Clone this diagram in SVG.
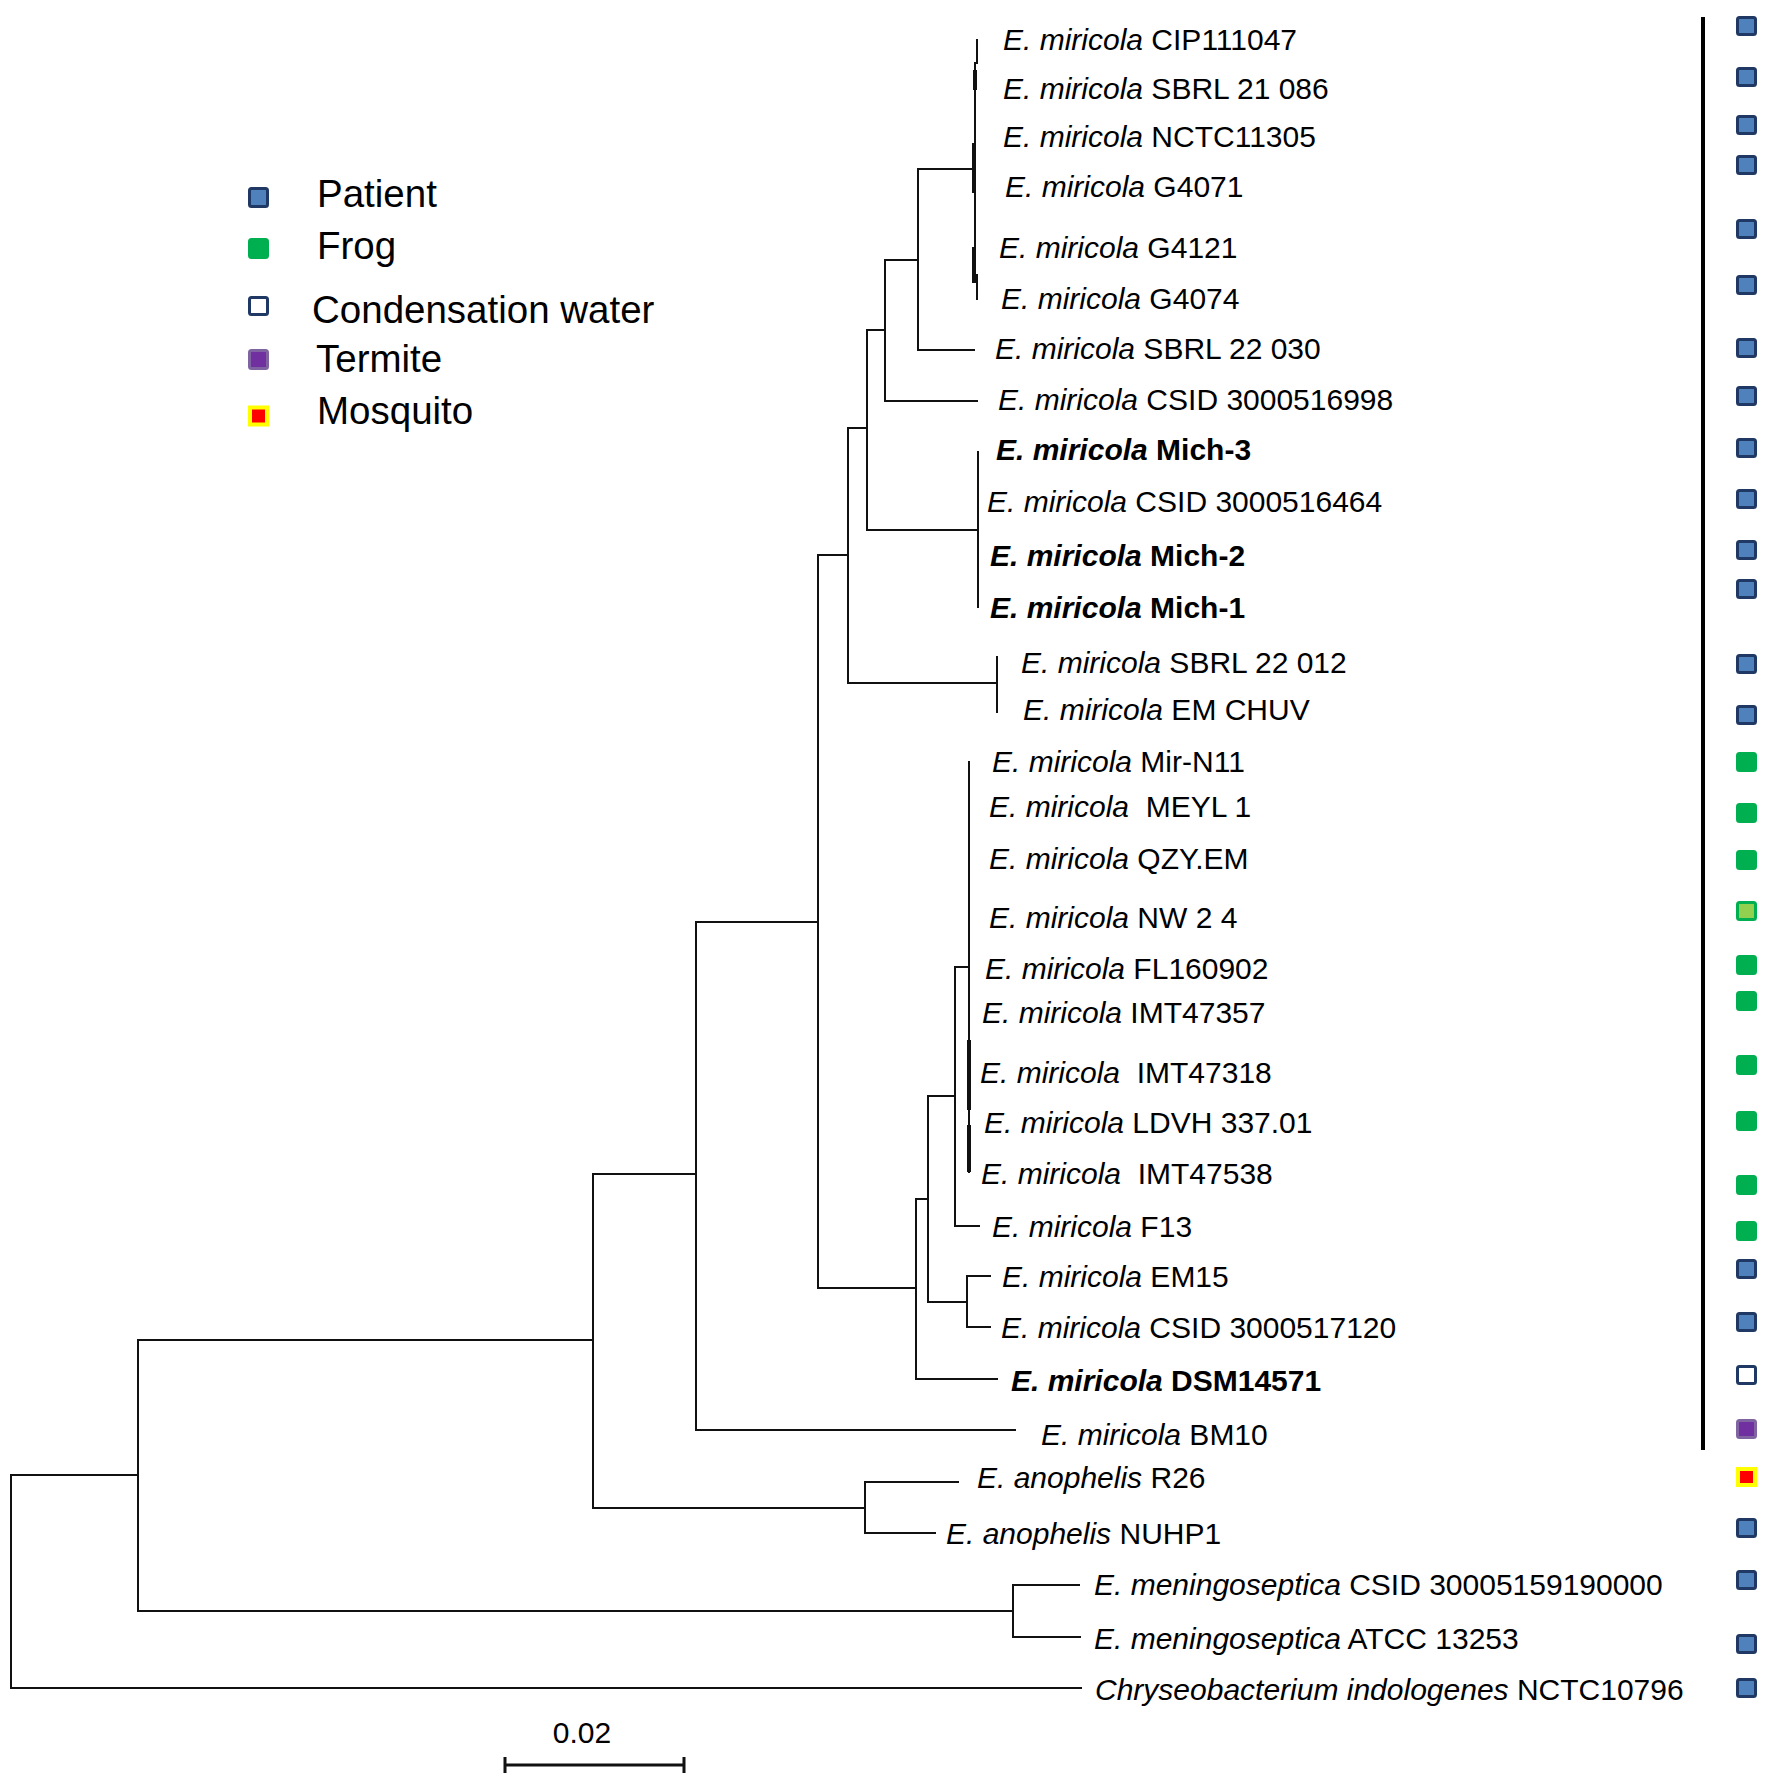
<svg xmlns="http://www.w3.org/2000/svg" width="1772" height="1786" viewBox="0 0 1772 1786">
<defs>
<style>
text{font-family:"Liberation Sans",Arial,sans-serif;fill:#000}
.lbl{font-size:30px;white-space:pre}
.it{font-style:italic}
.b{font-weight:bold}
.leg{font-size:38.5px}
.br{fill:none;stroke:#111;stroke-width:2;stroke-linecap:square}
.thick{fill:none;stroke:#111;stroke-width:4}
.pat{fill:#4f81bd;stroke:#1f3864;stroke-width:3}
.frog{fill:#00b050;stroke:#00b050;stroke-width:3}
.frogl{fill:#92d050;stroke:#00b050;stroke-width:3}
.cond{fill:#fff;stroke:#1f3864;stroke-width:3}
.term{fill:#7030a0;stroke:#8064a2;stroke-width:3}
.mosq{fill:#ff0000;stroke:#ffff00;stroke-width:4}
</style>
</defs>
<rect width="1772" height="1786" fill="#fff"/>

<g id="legend">
<rect class="pat" x="249.5" y="188.5" width="18" height="18" rx="2"/>
<text class="leg" x="317" y="207">Patient</text>
<rect class="frog" x="249.5" y="239.5" width="18" height="18" rx="2"/>
<text class="leg" x="317" y="259">Frog</text>
<rect class="cond" x="249.5" y="297.5" width="18" height="17" rx="2"/>
<text class="leg" x="312" y="323">Condensation water</text>
<rect class="term" x="249.5" y="350.5" width="18" height="18" rx="2"/>
<text class="leg" x="316" y="372">Termite</text>
<rect class="mosq" x="250" y="407.5" width="17" height="17"/>
<text class="leg" x="317" y="424">Mosquito</text>
</g>

<g id="connectors">
<path class="br" d="M11 1475V1688M11 1475H138M11 1688H1081"/>
<path class="br" d="M138 1340V1611M138 1340H593M138 1611H1013"/>
<path class="br" d="M1013 1585V1637M1013 1585H1079M1013 1637H1080"/>
<path class="br" d="M593 1174V1508M593 1174H696M593 1508H865"/>
<path class="br" d="M865 1482V1533M865 1482H958M865 1533H935"/>
<path class="br" d="M696 922V1430M696 922H818M696 1430H1015"/>
<path class="br" d="M818 555V1288M818 555H848M818 1288H916"/>
<path class="br" d="M916 1199V1379M916 1199H928M916 1379H997"/>
<path class="br" d="M928 1096V1302M928 1096H955M928 1302H967"/>
<path class="br" d="M967 1276V1327M967 1276H990M967 1327H990"/>
<path class="br" d="M955 967V1226M955 967H969M955 1226H979"/>
<path class="br" d="M969 762V1172"/>
<path class="thick" d="M969 1040V1110M969 1125V1172"/>
<path class="br" d="M848 428V683M848 428H867M848 683H997"/>
<path class="br" d="M997 657V712"/>
<path class="br" d="M867 330V530M867 330H885M867 530H978"/>
<path class="br" d="M978 452V607"/>
<path class="br" d="M885 260V401M885 260H918M885 401H977"/>
<path class="br" d="M918 169V350M918 169H974M918 350H974"/>
<path class="br" d="M975 63V275M977 40V63M977 275V299"/>
<path class="thick" d="M974 143V193M974 247V283M975 70V90"/>
<path d="M1703 17V1450" fill="none" stroke="#000" stroke-width="4"/>
</g>

<g id="scale">
<path d="M505 1765H684M505 1757V1773M684 1757V1773" fill="none" stroke="#111" stroke-width="3"/>
<text class="lbl" x="582" y="1743" text-anchor="middle">0.02</text>
</g>

<g id="leaf1"><text class="lbl" x="1003" y="50"><tspan class="it">E. miricola</tspan> CIP111047</text><rect class="pat" x="1737.5" y="17.5" width="18" height="17" rx="2"/></g>
<g id="leaf2"><text class="lbl" x="1003" y="99"><tspan class="it">E. miricola</tspan> SBRL 21 086</text><rect class="pat" x="1737.5" y="68.5" width="18" height="17" rx="2"/></g>
<g id="leaf3"><text class="lbl" x="1003" y="147"><tspan class="it">E. miricola</tspan> NCTC11305</text><rect class="pat" x="1737.5" y="116.5" width="18" height="17" rx="2"/></g>
<g id="leaf4"><text class="lbl" x="1005" y="197"><tspan class="it">E. miricola</tspan> G4071</text><rect class="pat" x="1737.5" y="156.5" width="18" height="17" rx="2"/></g>
<g id="leaf5"><text class="lbl" x="999" y="258"><tspan class="it">E. miricola</tspan> G4121</text><rect class="pat" x="1737.5" y="220.5" width="18" height="17" rx="2"/></g>
<g id="leaf6"><text class="lbl" x="1001" y="309"><tspan class="it">E. miricola</tspan> G4074</text><rect class="pat" x="1737.5" y="276.5" width="18" height="17" rx="2"/></g>
<g id="leaf7"><text class="lbl" x="995" y="359"><tspan class="it">E. miricola</tspan> SBRL 22 030</text><rect class="pat" x="1737.5" y="339.5" width="18" height="17" rx="2"/></g>
<g id="leaf8"><text class="lbl" x="998" y="410"><tspan class="it">E. miricola</tspan> CSID 3000516998</text><rect class="pat" x="1737.5" y="387.5" width="18" height="17" rx="2"/></g>
<g id="leaf9"><text class="lbl b" x="996" y="460"><tspan class="it">E. miricola</tspan> Mich-3</text><rect class="pat" x="1737.5" y="439.5" width="18" height="17" rx="2"/></g>
<g id="leaf10"><text class="lbl" x="987" y="512"><tspan class="it">E. miricola</tspan> CSID 3000516464</text><rect class="pat" x="1737.5" y="490.5" width="18" height="17" rx="2"/></g>
<g id="leaf11"><text class="lbl b" x="990" y="566"><tspan class="it">E. miricola</tspan> Mich-2</text><rect class="pat" x="1737.5" y="541.5" width="18" height="17" rx="2"/></g>
<g id="leaf12"><text class="lbl b" x="990" y="618"><tspan class="it">E. miricola</tspan> Mich-1</text><rect class="pat" x="1737.5" y="580.5" width="18" height="17" rx="2"/></g>
<g id="leaf13"><text class="lbl" x="1021" y="673"><tspan class="it">E. miricola</tspan> SBRL 22 012</text><rect class="pat" x="1737.5" y="655.5" width="18" height="17" rx="2"/></g>
<g id="leaf14"><text class="lbl" x="1023" y="720"><tspan class="it">E. miricola</tspan> EM CHUV</text><rect class="pat" x="1737.5" y="706.5" width="18" height="17" rx="2"/></g>
<g id="leaf15"><text class="lbl" x="992" y="772"><tspan class="it">E. miricola</tspan> Mir-N11</text><rect class="frog" x="1737.5" y="753.5" width="18" height="17" rx="2"/></g>
<g id="leaf16"><text class="lbl" x="989" y="817"><tspan class="it">E. miricola</tspan>  MEYL 1</text><rect class="frog" x="1737.5" y="804.5" width="18" height="17" rx="2"/></g>
<g id="leaf17"><text class="lbl" x="989" y="869"><tspan class="it">E. miricola</tspan> QZY.EM</text><rect class="frog" x="1737.5" y="851.5" width="18" height="17" rx="2"/></g>
<g id="leaf18"><text class="lbl" x="989" y="928"><tspan class="it">E. miricola</tspan> NW 2 4</text><rect class="frogl" x="1737.5" y="902.5" width="18" height="17" rx="2"/></g>
<g id="leaf19"><text class="lbl" x="985" y="979"><tspan class="it">E. miricola</tspan> FL160902</text><rect class="frog" x="1737.5" y="956.5" width="18" height="17" rx="2"/></g>
<g id="leaf20"><text class="lbl" x="982" y="1023"><tspan class="it">E. miricola</tspan> IMT47357</text><rect class="frog" x="1737.5" y="992.5" width="18" height="17" rx="2"/></g>
<g id="leaf21"><text class="lbl" x="980" y="1083"><tspan class="it">E. miricola</tspan>  IMT47318</text><rect class="frog" x="1737.5" y="1056.5" width="18" height="17" rx="2"/></g>
<g id="leaf22"><text class="lbl" x="984" y="1133"><tspan class="it">E. miricola</tspan> LDVH 337.01</text><rect class="frog" x="1737.5" y="1112.5" width="18" height="17" rx="2"/></g>
<g id="leaf23"><text class="lbl" x="981" y="1184"><tspan class="it">E. miricola</tspan>  IMT47538</text><rect class="frog" x="1737.5" y="1176.5" width="18" height="17" rx="2"/></g>
<g id="leaf24"><text class="lbl" x="992" y="1237"><tspan class="it">E. miricola</tspan> F13</text><rect class="frog" x="1737.5" y="1222.5" width="18" height="17" rx="2"/></g>
<g id="leaf25"><text class="lbl" x="1002" y="1287"><tspan class="it">E. miricola</tspan> EM15</text><rect class="pat" x="1737.5" y="1260.5" width="18" height="17" rx="2"/></g>
<g id="leaf26"><text class="lbl" x="1001" y="1338"><tspan class="it">E. miricola</tspan> CSID 3000517120</text><rect class="pat" x="1737.5" y="1313.5" width="18" height="17" rx="2"/></g>
<g id="leaf27"><text class="lbl b" x="1011" y="1391"><tspan class="it">E. miricola</tspan> DSM14571</text><rect class="cond" x="1737.5" y="1366.5" width="18" height="17" rx="2"/></g>
<g id="leaf28"><text class="lbl" x="1041" y="1445"><tspan class="it">E. miricola</tspan> BM10</text><rect class="term" x="1737.5" y="1420.5" width="18" height="17" rx="2"/></g>
<g id="leaf29"><text class="lbl" x="977" y="1488"><tspan class="it">E. anophelis</tspan> R26</text><rect class="mosq" x="1738" y="1469" width="17" height="16"/></g>
<g id="leaf30"><text class="lbl" x="946" y="1544"><tspan class="it">E. anophelis</tspan> NUHP1</text><rect class="pat" x="1737.5" y="1519.5" width="18" height="17" rx="2"/></g>
<g id="leaf31"><text class="lbl" x="1094" y="1595"><tspan class="it">E. meningoseptica</tspan> CSID 30005159190000</text><rect class="pat" x="1737.5" y="1571.5" width="18" height="17" rx="2"/></g>
<g id="leaf32"><text class="lbl" x="1094" y="1649"><tspan class="it">E. meningoseptica</tspan> ATCC 13253</text><rect class="pat" x="1737.5" y="1635.5" width="18" height="17" rx="2"/></g>
<g id="leaf33"><text class="lbl" x="1095" y="1700"><tspan class="it">Chryseobacterium indologenes</tspan> NCTC10796</text><rect class="pat" x="1737.5" y="1679.5" width="18" height="17" rx="2"/></g>
</svg>
